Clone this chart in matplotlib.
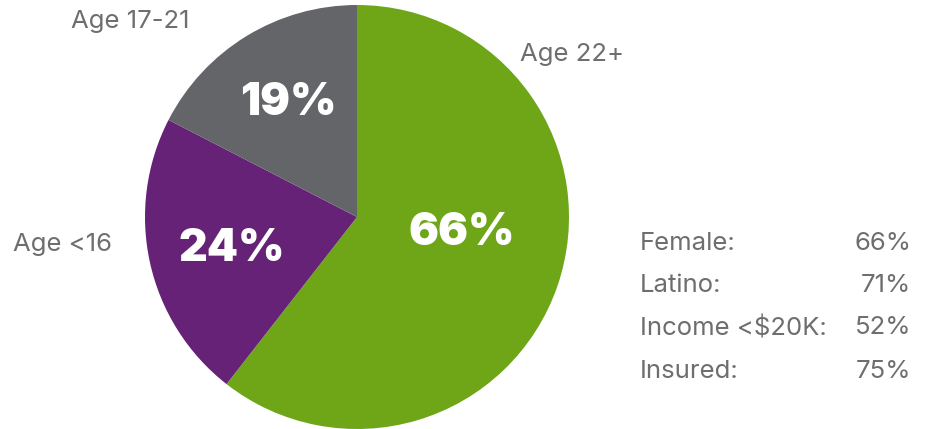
import matplotlib
matplotlib.use("Agg")
import matplotlib.pyplot as plt

# age groups (values as printed; the pie normalises them)
groups = ["Age 22+", "Age <16", "Age 17-21"]
shares = [66, 24, 19]
colors = ["#6ea618", "#662276", "#636569"]

# side table
stat_names = ["Female:", "Latino:", "Income <$20K:", "Insured:"]
stat_values = [66, 71, 52, 75]

text_grey = "#6e6e6e"
plt.rcParams["font.family"] = ["Inter", "DejaVu Sans"]

W, H = 927, 429
fig = plt.figure(figsize=(W / 100, H / 100), dpi=100)

# pie centred at (357, 217) px with radius 212 px
r_px = 212
ax = fig.add_axes([(357 - r_px) / W, (H - 217 - r_px) / H, 2 * r_px / W, 2 * r_px / H])
ax.pie(shares, colors=colors, startangle=90, counterclock=False,
       wedgeprops={"linewidth": 0})
ax.set_xlim(-1, 1)
ax.set_ylim(-1, 1)
ax.set_aspect("equal")
ax.axis("off")

# in-slice percentages
pct_pos = [(0.495, -0.075), (-0.59, -0.15), (-0.325, 0.54)]
for (x, y), v in zip(pct_pos, shares):
    ax.text(x, y, f"{v}%", color="white", fontsize=32, fontweight="black",
            ha="center", va="center")

# outside labels
lab_pos = [(1.015, 0.765), (-1.39, -0.13), (-1.07, 0.92)]
for (x, y), g in zip(lab_pos, groups):
    ax.text(x, y, g, color=text_grey, fontsize=18.5, fontweight="normal",
            ha="center", va="center", clip_on=False)

# stats table on the right
row_y = [243, 286, 328, 371]
for y, name, val in zip(row_y, stat_names, stat_values):
    fig.text(640 / W, 1 - y / H, name, color=text_grey, fontsize=18.5,
             fontweight="normal", ha="left", va="center")
    fig.text(911 / W, 1 - y / H, f"{val}%", color=text_grey, fontsize=18.5,
             fontweight="normal", ha="right", va="center")

fig.savefig("out.png", dpi=100)
